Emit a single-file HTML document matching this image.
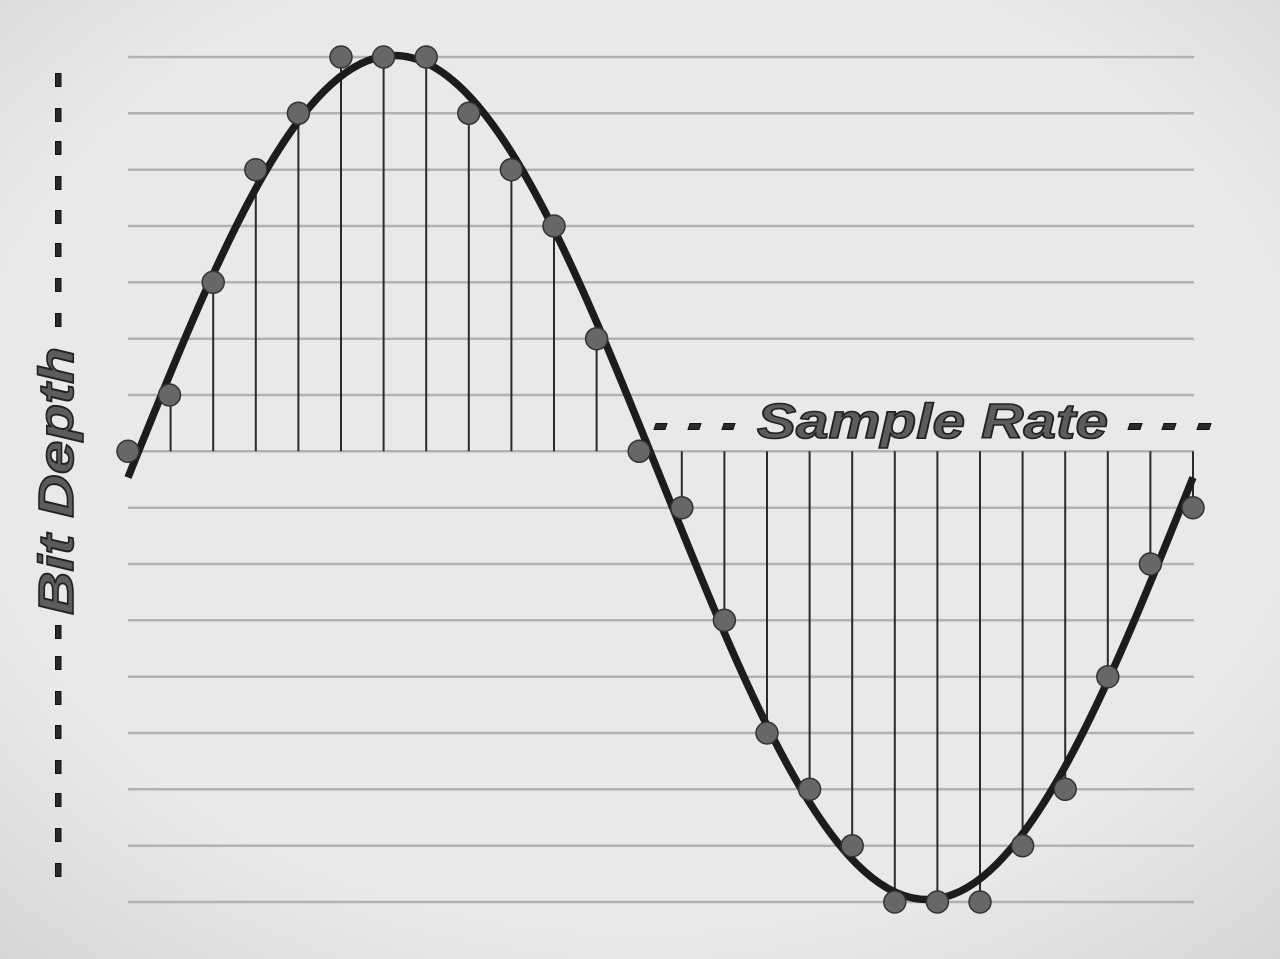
<!DOCTYPE html>
<html>
<head>
<meta charset="utf-8">
<style>
html,body{margin:0;padding:0;background:#e8e8e8;}
svg{display:block;}
</style>
</head>
<body>
<svg width="1280" height="959" viewBox="0 0 1280 959" xmlns="http://www.w3.org/2000/svg">
<defs>
<radialGradient id="vig" cx="50%" cy="45%" r="75%">
<stop offset="0.7" stop-color="#e9e9e9"/>
<stop offset="1" stop-color="#d6d6d6"/>
</radialGradient>
</defs>
<rect x="0" y="0" width="1280" height="959" fill="url(#vig)"/>

<!-- grid lines -->
<g stroke="#b2b2b2" stroke-width="2.5">
<line x1="128" y1="57" x2="1194" y2="57"/>
<line x1="128" y1="113.3" x2="1194" y2="113.3"/>
<line x1="128" y1="169.7" x2="1194" y2="169.7"/>
<line x1="128" y1="226" x2="1194" y2="226"/>
<line x1="128" y1="282.3" x2="1194" y2="282.3"/>
<line x1="128" y1="338.7" x2="1194" y2="338.7"/>
<line x1="128" y1="395" x2="1194" y2="395"/>
<line x1="128" y1="451.3" x2="1194" y2="451.3"/>
<line x1="128" y1="507.7" x2="1194" y2="507.7"/>
<line x1="128" y1="564" x2="1194" y2="564"/>
<line x1="128" y1="620.3" x2="1194" y2="620.3"/>
<line x1="128" y1="676.7" x2="1194" y2="676.7"/>
<line x1="128" y1="733" x2="1194" y2="733"/>
<line x1="128" y1="789.3" x2="1194" y2="789.3"/>
<line x1="128" y1="845.7" x2="1194" y2="845.7"/>
<line x1="128" y1="902" x2="1194" y2="902"/>
</g>

<!-- stems -->
<g stroke="#2a2a2a" stroke-width="2">
<line x1="170.6" y1="451.3" x2="170.6" y2="395"/>
<line x1="213.2" y1="451.3" x2="213.2" y2="282.3"/>
<line x1="255.8" y1="451.3" x2="255.8" y2="169.7"/>
<line x1="298.4" y1="451.3" x2="298.4" y2="113.3"/>
<line x1="341" y1="451.3" x2="341" y2="57"/>
<line x1="383.6" y1="451.3" x2="383.6" y2="57"/>
<line x1="426.2" y1="451.3" x2="426.2" y2="57"/>
<line x1="468.8" y1="451.3" x2="468.8" y2="113.3"/>
<line x1="511.4" y1="451.3" x2="511.4" y2="169.7"/>
<line x1="554" y1="451.3" x2="554" y2="226"/>
<line x1="596.6" y1="451.3" x2="596.6" y2="338.7"/>
<line x1="681.8" y1="451.3" x2="681.8" y2="507.7"/>
<line x1="724.4" y1="451.3" x2="724.4" y2="620.3"/>
<line x1="767" y1="451.3" x2="767" y2="733"/>
<line x1="809.6" y1="451.3" x2="809.6" y2="789.3"/>
<line x1="852.2" y1="451.3" x2="852.2" y2="845.7"/>
<line x1="894.8" y1="451.3" x2="894.8" y2="902"/>
<line x1="937.4" y1="451.3" x2="937.4" y2="902"/>
<line x1="980" y1="451.3" x2="980" y2="902"/>
<line x1="1022.6" y1="451.3" x2="1022.6" y2="845.7"/>
<line x1="1065.2" y1="451.3" x2="1065.2" y2="789.3"/>
<line x1="1107.8" y1="451.3" x2="1107.8" y2="676.7"/>
<line x1="1150.4" y1="451.3" x2="1150.4" y2="564"/>
<line x1="1193" y1="451.3" x2="1193" y2="507.7"/>
</g>

<!-- sine curve -->
<path d="M128,477.5 C214.8,261.3 297.9,55.5 394.25,55.5 C490.6,55.5 573.7,261.3 660.5,477.5 C747.3,693.7 830.4,899.5 926.75,899.5 C1023.1,899.5 1106.2,693.7 1193,477.5"
 fill="none" stroke="#1c1c1c" stroke-width="7.5" stroke-linecap="butt"/>

<!-- sample dots -->
<g fill="#676767" stroke="#333" stroke-width="1.5">
<circle cx="128" cy="451.3" r="11"/>
<circle cx="169.5" cy="395" r="11"/>
<circle cx="213.2" cy="282.3" r="11"/>
<circle cx="255.8" cy="169.7" r="11"/>
<circle cx="298.4" cy="113.3" r="11"/>
<circle cx="341" cy="57" r="11"/>
<circle cx="383.6" cy="57" r="11"/>
<circle cx="426.2" cy="57" r="11"/>
<circle cx="468.8" cy="113.3" r="11"/>
<circle cx="511.4" cy="169.7" r="11"/>
<circle cx="554" cy="226" r="11"/>
<circle cx="596.6" cy="338.7" r="11"/>
<circle cx="639.2" cy="451.3" r="11"/>
<circle cx="681.8" cy="507.7" r="11"/>
<circle cx="724.4" cy="620.3" r="11"/>
<circle cx="767" cy="733" r="11"/>
<circle cx="809.6" cy="789.3" r="11"/>
<circle cx="852.2" cy="845.7" r="11"/>
<circle cx="894.8" cy="902" r="11"/>
<circle cx="937.4" cy="902" r="11"/>
<circle cx="980" cy="902" r="11"/>
<circle cx="1022.6" cy="845.7" r="11"/>
<circle cx="1065.2" cy="789.3" r="11"/>
<circle cx="1107.8" cy="676.7" r="11"/>
<circle cx="1150.4" cy="564" r="11"/>
<circle cx="1193" cy="507.7" r="11"/>
</g>

<!-- Sample Rate dashes -->
<g fill="#2a2a2a" stroke="#111" stroke-width="1">
<polygon points="654,429.5 665,429.5 667,423.5 656,423.5"/>
<polygon points="688,429.5 699,429.5 701,423.5 690,423.5"/>
<polygon points="722,429.5 733,429.5 735,423.5 724,423.5"/>
<polygon points="1128,429.5 1140,429.5 1142,423.5 1130,423.5"/>
<polygon points="1162,429.5 1174,429.5 1176,423.5 1164,423.5"/>
<polygon points="1197,429.5 1209,429.5 1211,423.5 1199,423.5"/>
</g>

<!-- Sample Rate text -->
<text x="757" y="438" textLength="351" lengthAdjust="spacingAndGlyphs"
 font-family="Liberation Sans, Arial, sans-serif" font-weight="bold" font-style="italic" font-size="49"
 fill="#5c5c5c" stroke="#222" stroke-width="1.6">Sample Rate</text>

<!-- Bit Depth dashes -->
<g fill="#2a2a2a" stroke="#111" stroke-width="1">
<rect x="55.5" y="73.5" width="5.5" height="13"/>
<rect x="55.5" y="108.5" width="5.5" height="13"/>
<rect x="55.5" y="141.5" width="5.5" height="13"/>
<rect x="55.5" y="176.5" width="5.5" height="13"/>
<rect x="55.5" y="210.5" width="5.5" height="13"/>
<rect x="55.5" y="243.5" width="5.5" height="13"/>
<rect x="55.5" y="278.5" width="5.5" height="13"/>
<rect x="55.5" y="313.5" width="5.5" height="13"/>
<rect x="55.5" y="625.5" width="5.5" height="13"/>
<rect x="55.5" y="656.5" width="5.5" height="13"/>
<rect x="55.5" y="691.5" width="5.5" height="13"/>
<rect x="55.5" y="725.5" width="5.5" height="13"/>
<rect x="55.5" y="760.5" width="5.5" height="13"/>
<rect x="55.5" y="793.5" width="5.5" height="13"/>
<rect x="55.5" y="828.5" width="5.5" height="13"/>
<rect x="55.5" y="863.5" width="5.5" height="13"/>
</g>

<!-- Bit Depth text -->
<text transform="translate(73,615) rotate(-90)" x="0" y="0" textLength="268" lengthAdjust="spacingAndGlyphs"
 font-family="Liberation Sans, Arial, sans-serif" font-weight="bold" font-style="italic" font-size="49"
 fill="#5c5c5c" stroke="#222" stroke-width="1.6">Bit Depth</text>
</svg>
</body>
</html>
